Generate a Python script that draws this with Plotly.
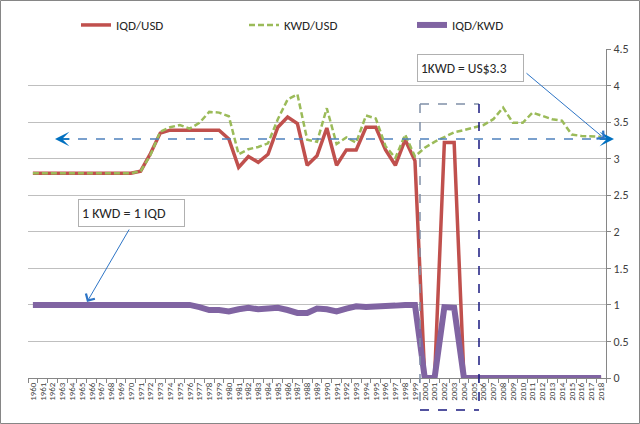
import plotly.graph_objects as go

# exchange rates
years = list(range(1960, 2019))

iqd_usd = [2.80] * 11 + [
    2.83, 3.07, 3.35, 3.39, 3.39, 3.39, 3.39, 3.39, 3.39, 3.27,
    2.88, 3.03, 2.95, 3.06, 3.43, 3.57, 3.48, 2.91, 3.04, 3.42,
    2.91, 3.12, 3.12, 3.43, 3.43, 3.12, 2.91, 3.26, 2.97, 0.0,
    0.0, 3.22, 3.22,
] + [0.0] * 15

kwd_usd = [2.80] * 11 + [
    2.83, 3.05, 3.37, 3.43, 3.46, 3.41, 3.49, 3.64, 3.63, 3.58,
    3.06, 3.13, 3.16, 3.21, 3.54, 3.81, 3.88, 3.26, 3.23, 3.69,
    3.20, 3.29, 3.22, 3.59, 3.55, 3.17, 3.01, 3.33, 3.03, 3.15,
    3.23, 3.29, 3.36, 3.39, 3.42, 3.46, 3.54, 3.70, 3.49, 3.49,
    3.63, 3.58, 3.54, 3.52, 3.33, 3.31, 3.30, 3.30,
]

iqd_kwd = [1.00] * 11 + [
    1.01, 1.00, 0.99, 0.99, 0.99, 1.00, 0.97, 0.93, 0.93, 0.91,
    0.94, 0.96, 0.94, 0.95, 0.96, 0.93, 0.89, 0.89, 0.95, 0.94,
    0.91, 0.95, 0.98, 0.97, 0.97, 0.98, 0.99, 1.00, 1.00, 0.0,
    0.0, 0.97, 0.96,
] + [0.0] * 15

peg_rate = 3.27  # dashed reference line, 1 KWD = US$3.3
y_ticks = [0, 0.5, 1, 1.5, 2, 2.5, 3, 3.5, 4, 4.5]

FONT = "Calibri, Carlito, Lato, sans-serif"
W, H = 640, 424
L, R, T, B = 28, 34, 49, 46
PW, PH = W - L - R, H - T - B


def px_x(px):
    return (px - L) / PW


def px_y(py):
    return (H - B - py) / PH


cats = [str(y) for y in years]

fig = go.Figure()
fig.add_trace(go.Scatter(x=cats, y=iqd_usd, name="IQD/USD", mode="lines",
                         line=dict(color="#C0504D", width=3.5)))
fig.add_trace(go.Scatter(x=cats, y=kwd_usd, name="KWD/USD", mode="lines",
                         line=dict(color="#9BBB59", width=2.5, dash="6px,3px")))
fig.add_trace(go.Scatter(x=cats, y=iqd_kwd, name="IQD/KWD", mode="lines",
                         line=dict(color="#8064A2", width=6)))

shapes = [
    # chart border
    dict(type="rect", xref="paper", yref="paper",
         x0=px_x(0.5), x1=px_x(639.5), y0=px_y(423.5), y1=px_y(0.5),
         line=dict(color="#868686", width=1)),
    # dashed peg line
    dict(type="line", xref="paper", yref="y", x0=px_x(60), x1=px_x(608),
         y0=peg_rate, y1=peg_rate, line=dict(color="#4F81BD", width=1.5, dash="dash")),
    # 2000-2005 box
    dict(type="line", xref="paper", yref="paper", x0=px_x(420), x1=px_x(479),
         y0=px_y(104), y1=px_y(104), line=dict(color="#8090A8", width=1.5, dash="dash")),
    dict(type="line", xref="paper", yref="paper", x0=px_x(420), x1=px_x(420),
         y0=px_y(104), y1=px_y(410), line=dict(color="#8090A8", width=1.5, dash="dash")),
    dict(type="line", xref="paper", yref="paper", x0=px_x(479), x1=px_x(479),
         y0=px_y(104), y1=px_y(410), line=dict(color="#1A1A80", width=1.5, dash="dash")),
    dict(type="line", xref="paper", yref="paper", x0=px_x(420), x1=px_x(479),
         y0=px_y(410), y1=px_y(410), line=dict(color="#1A1A80", width=1.5, dash="dash")),
]

annotations = [
    # arrowheads on peg line
    dict(xref="paper", yref="y", x=px_x(55), y=peg_rate, ax=16, ay=0, text="",
         showarrow=True, arrowhead=3, arrowsize=1.6, arrowwidth=1.5, arrowcolor="#0070C0"),
    dict(xref="paper", yref="y", x=px_x(614), y=peg_rate, ax=-16, ay=0, text="",
         showarrow=True, arrowhead=3, arrowsize=1.6, arrowwidth=1.5, arrowcolor="#0070C0"),
    # callout boxes
    dict(xref="paper", yref="paper", x=px_x(470.5), y=px_y(68.3), text="1KWD = US$3.3",
         xanchor="center", yanchor="middle",
         showarrow=False, font=dict(family=FONT, size=13.5, color="#262626"),
         bgcolor="white", bordercolor="#B0B0B0", borderwidth=1, borderpad=3,
         width=99, height=20, align="left"),
    dict(xref="paper", yref="paper", x=px_x(131.5), y=px_y(213.3), text="1 KWD = 1 IQD",
         xanchor="center", yanchor="middle",
         showarrow=False, font=dict(family=FONT, size=14, color="#262626"),
         bgcolor="white", bordercolor="#B0B0B0", borderwidth=1, borderpad=3,
         width=99, height=20, align="left"),
    # callout arrows
    dict(xref="paper", yref="paper", x=px_x(605), y=px_y(139), ax=-80, ay=-67, text="",
         showarrow=True, arrowhead=4, arrowsize=2, arrowwidth=1, arrowcolor="#2E75C6"),
    dict(xref="paper", yref="paper", x=px_x(87), y=px_y(302), ax=43, ay=-74, text="",
         showarrow=True, arrowhead=4, arrowsize=2, arrowwidth=1, arrowcolor="#2E75C6"),
]

fig.update_layout(
    width=W, height=H,
    margin=dict(l=L, r=R, t=T, b=B, autoexpand=False),
    paper_bgcolor="white", plot_bgcolor="white",
    font=dict(family=FONT, size=11, color="#404040"),
    showlegend=True,
    legend=dict(orientation="h", x=px_x(76), y=px_y(25), xanchor="left", yanchor="middle",
                entrywidth=123, entrywidthmode="pixels", font=dict(size=13, color="#262626"),
                bgcolor="rgba(0,0,0,0)"),
    shapes=shapes,
    annotations=annotations,
)

fig.update_xaxes(type="category", tickmode="array", tickvals=cats, ticktext=cats,
                 tickangle=-90, tickfont=dict(size=9, color="#404040"),
                 ticks="outside", tickson="boundaries", ticklen=4, tickcolor="#868686",
                 showline=True, linecolor="#868686", showgrid=False, range=[-0.5, 58.5],
                 automargin=False)
fig.update_yaxes(side="right", range=[0, 4.5], tickvals=y_ticks,
                 ticktext=[f"{v:g}" for v in y_ticks], tickfont=dict(size=12, color="#404040"),
                 ticks="outside", ticklen=4, tickcolor="#868686",
                 showline=True, linecolor="#868686", showgrid=True, gridcolor="#BFBFBF",
                 zeroline=False, automargin=False)

fig.write_html(
    "out.html",
    config=dict(displayModeBar=False),
    post_script="document.body.style.margin='0';document.body.style.overflow='hidden';",
)
